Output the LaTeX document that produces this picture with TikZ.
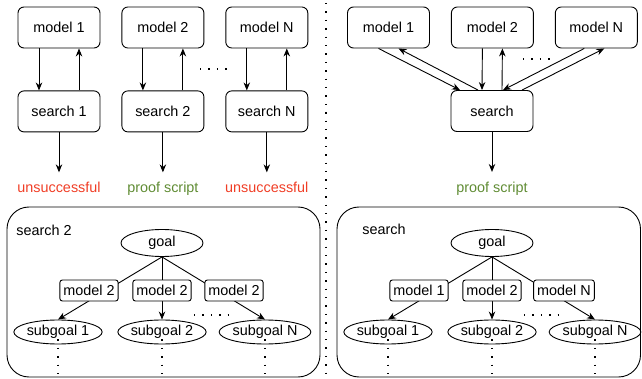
\documentclass[tikz,border=0pt]{standalone}
\usepackage{fontspec}
\setmainfont{Liberation Sans}
\usepackage{xcolor}
\usetikzlibrary{positioning,arrows.meta,shapes.geometric}
\definecolor{failred}{RGB}{240,62,38}
\definecolor{okgreen}{RGB}{96,140,52}

\begin{document}
\begin{tikzpicture}[x=1pt, y=-1pt, >={Stealth[length=8pt,width=6.5pt]},
    font=\fontsize{14.4}{17}\selectfont, line width=0.9pt,
    box/.style={draw, rectangle, rounded corners=6pt, minimum width=82pt, minimum height=41pt, inner sep=0pt},
    tag/.style={draw, rectangle, rounded corners=2.5pt, fill=white, minimum height=21pt, inner xsep=3.5pt, inner ysep=0pt},
    goalnode/.style={draw, ellipse, minimum width=82pt, minimum height=27pt, inner sep=0pt},
    subgoal/.style={draw, ellipse, minimum width=83pt, minimum height=24pt, inner sep=0pt},
    outtext/.style={inner sep=0pt, text height=10pt, text depth=3pt},
    frame/.style={draw, rounded corners=22pt},
    dots/.style={line width=1.4pt, dash pattern=on 1.4pt off 7pt}]

  \useasboundingbox (0,0) rectangle (642,379);

  % one search per model
  \node[box] (m1) at (59,27.5) {model 1};
  \node[box, right=21pt of m1] (m2) {model 2};
  \node[box, right=21pt of m2] (mN) {model N};
  \node[box, below=42pt of m1] (s1) {search 1};
  \node[box, below=42pt of m2] (s2) {search 2};
  \node[box, below=42pt of mN] (sN) {search N};
  \node[outtext, text=failred, below=50pt of s1] (r1) {unsuccessful};
  \node[outtext, text=okgreen, below=50pt of s2] (r2) {proof script};
  \node[outtext, text=failred, below=50pt of sN] (rN) {unsuccessful};

  \foreach \m/\s/\r in {m1/s1/r1, m2/s2/r2, mN/sN/rN} {
    \draw[->] ([xshift=-20pt]\m.south) -- ([xshift=-20pt]\s.north);
    \draw[->] ([xshift=20pt]\s.north) -- ([xshift=20pt]\m.south);
    \draw[->, shorten >=10pt] (\s) -- (\r);
  }
  \draw[dots] (200,69) -- (228,69);

  \draw[dots] (326,3) -- (326,379);

  % one search shared by all models
  \node[box] (pm1) at (388.5,27.5) {model 1};
  \node[box, right=21pt of pm1] (pm2) {model 2};
  \node[box, right=21pt of pm2] (pmN) {model N};
  \node[box] (ps) at (492,111) {search};
  \node[outtext, text=okgreen, below=50pt of ps] (pr) {proof script};

  \draw[->] ([xshift=-10pt]pm1.south) -- ([xshift=-32pt]ps.north);
  \draw[->] ([xshift=-14pt]ps.north) -- ([xshift=10pt]pm1.south);
  \draw[->] ([xshift=-10pt]pm2.south) -- ([xshift=-10pt]ps.north);
  \draw[->] ([xshift=10pt]ps.north) -- ([xshift=10pt]pm2.south);
  \draw[->] ([xshift=-12pt]pmN.south) -- ([xshift=11pt]ps.north);
  \draw[->] ([xshift=30pt]ps.north) -- ([xshift=8pt]pmN.south);
  \draw[->, shorten >=10pt] (ps) -- (pr);
  \draw[dots] (523,59) -- (550,59);

  % search tree inside search 2
  \draw[frame] (7,207) rectangle (320,377);
  \node[anchor=west, inner sep=0pt] (lt) at (16,230) {search 2};
  \node[goalnode] (g) at (162,243) {goal};
  \node[subgoal] (g1) at (58,332) {subgoal 1};
  \node[subgoal] (g2) at (162,332) {subgoal 2};
  \node[subgoal] (gN) at (265,332) {subgoal N};
  \draw[->] (g.south) -- (g1.north);
  \draw[->] (g.south) -- (g2.north);
  \draw[->] (g.south) -- (gN.north);
  \node[tag] (t1) at (89,290.5) {model 2};
  \node[tag] (t2) at (162,290.5) {model 2};
  \node[tag] (tN) at (234,290.5) {model 2};
  \draw[dots] (194,315) -- (228,315);
  \foreach \n in {g1,g2,gN}
    \draw[dots] ([yshift=5pt]\n.south) -- ++(0,36);

  % search tree of the shared search
  \draw[frame] (337,207) rectangle (640.5,377);
  \node[anchor=west, inner sep=0pt] (rt) at (362,229) {search};
  \node[goalnode] (h) at (492,243) {goal};
  \node[subgoal] (h1) at (388,332) {subgoal 1};
  \node[subgoal] (h2) at (492,332) {subgoal 2};
  \node[subgoal] (hN) at (595,332) {subgoal N};
  \draw[->] (h.south) -- (h1.north);
  \draw[->] (h.south) -- (h2.north);
  \draw[->] (h.south) -- (hN.north);
  \node[tag] (u1) at (419,290.5) {model 1};
  \node[tag] (u2) at (492,290.5) {model 2};
  \node[tag] (uN) at (564,290.5) {model N};
  \draw[dots] (524,315) -- (558,315);
  \foreach \n in {h1,h2,hN}
    \draw[dots] ([yshift=5pt]\n.south) -- ++(0,36);
\end{tikzpicture}
\end{document}
